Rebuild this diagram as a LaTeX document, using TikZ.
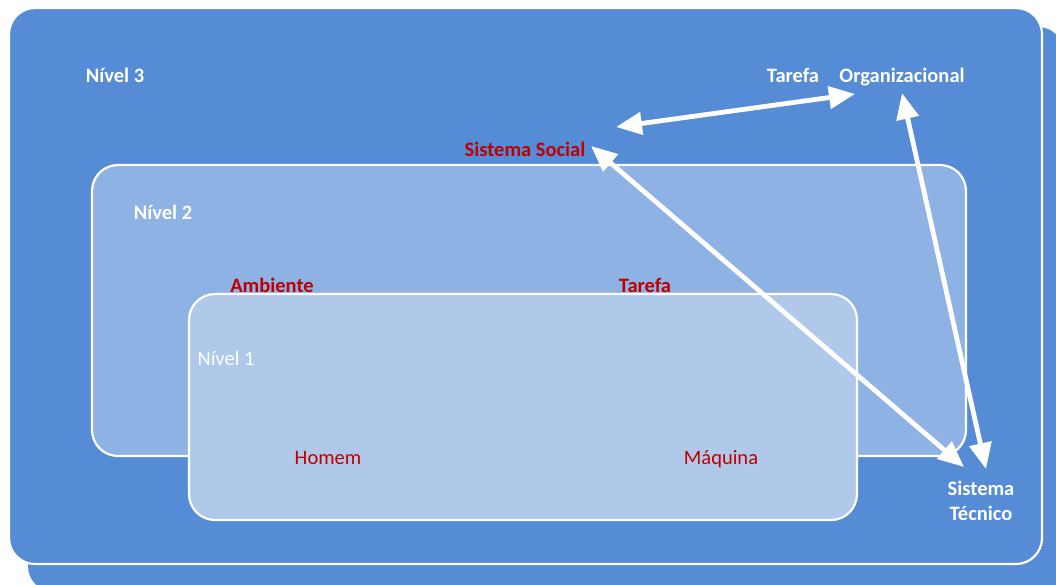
\documentclass[tikz,border=0pt]{standalone}
\usepackage{fontspec}
\setmainfont{Carlito}
\usetikzlibrary{arrows.meta}
\definecolor{levelthree}{RGB}{85,140,213}
\definecolor{leveltwo}{RGB}{142,178,228}
\definecolor{levelone}{RGB}{176,200,234}
\definecolor{darkred}{RGB}{192,0,0}
\tikzset{
  panel/.style={draw=white, line width=2.2pt, rounded corners=26pt},
  label/.style={inner sep=0pt, text height=14pt, text depth=0pt},
  whitebold/.style={label, text=white, font=\fontsize{20.5}{24}\selectfont\bfseries},
  redbold/.style={label, text=darkred, font=\fontsize{20.5}{24}\selectfont\bfseries},
  whiteplain/.style={label, text=white, font=\fontsize{20.5}{24}\selectfont},
  redplain/.style={label, text=darkred, font=\fontsize{20.5}{24}\selectfont},
  link/.style={draw=white, line width=4.8pt,
    {Triangle[length=26pt,width=22pt]}-{Triangle[length=26pt,width=22pt]}}
}
\begin{document}
\begin{tikzpicture}[x=1pt,y=-1pt]
\useasboundingbox (0,0) rectangle (1056,584);
% stacked outer panel with its offset copy behind
\fill[levelthree, rounded corners=26pt] (28,27) rectangle (1064,592);
\path[panel, fill=levelthree] (9,8) rectangle (1042,564);
% level 2 and level 1 panels
\path[panel, fill=leveltwo] (92,165) rectangle (966,456);
\path[panel, fill=levelone] (189,294) rectangle (857,520);

% labels
\node[whitebold] (n3) at (115,75) {Nível 3};
\node[whitebold] (taref3) at (793,75) {Tarefa};
\node[whitebold] (org) at (902,75) {Organizacional};
\node[redbold] (social) at (525,149) {Sistema Social};
\node[whitebold] (n2) at (163,212) {Nível 2};
\node[redbold] (amb) at (272,285) {Ambiente};
\node[redbold] (taref2) at (645,285) {Tarefa};
\node[whiteplain] (n1) at (226,358) {Nível 1};
\node[redplain] (homem) at (328,457) {Homem};
\node[redplain] (maq) at (721,457) {Máquina};
\node[whitebold] (tecA) at (981,488) {Sistema};
\node[whitebold] (tecB) at (981,513) {Técnico};

% arrow end points
\coordinate (socR) at (616,127);
\coordinate (orgL) at (855,94);
\coordinate (socB) at (591,146);
\coordinate (tecTipA) at (964,467);
\coordinate (orgB) at (902,93);
\coordinate (tecTipB) at (986,469);

\draw[link] (socR) -- (orgL);
\draw[link] (socB) -- (tecTipA);
\draw[link] (orgB) -- (tecTipB);
\end{tikzpicture}
\end{document}
